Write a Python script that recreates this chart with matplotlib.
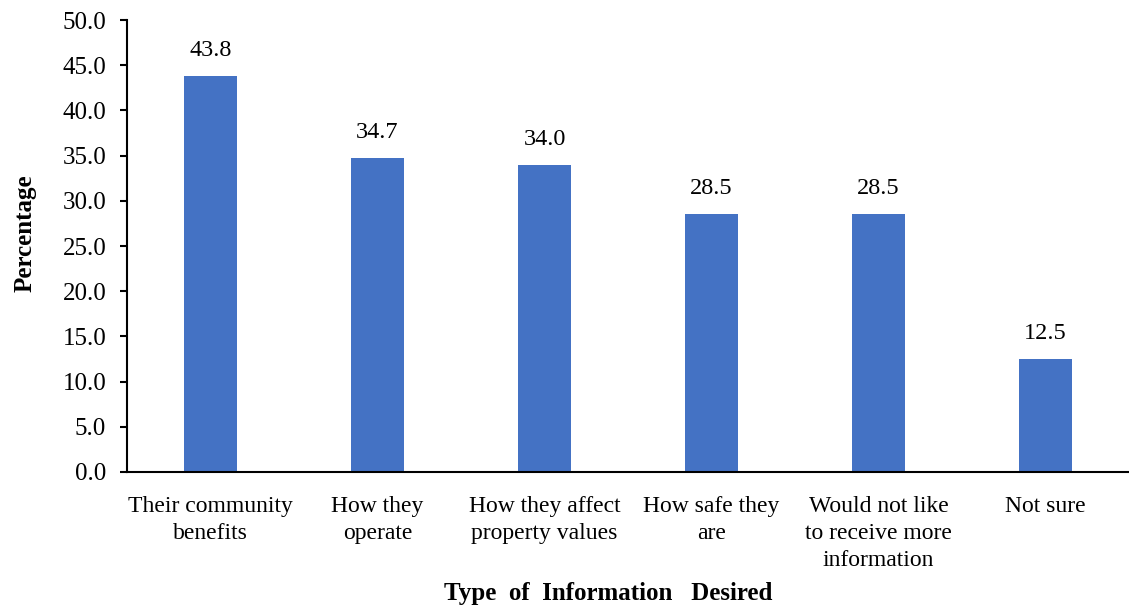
import matplotlib
matplotlib.use("Agg")
import matplotlib.pyplot as plt

categories = [
    "Their community\nbenefits",
    "How they\noperate",
    "How they affect\nproperty values",
    "How safe they\nare",
    "Would not like\nto receive more\ninformation",
    "Not sure",
]
percentages = [43.8, 34.7, 34.0, 28.5, 28.5, 12.5]
y_ticks = [0, 5, 10, 15, 20, 25, 30, 35, 40, 45, 50]

plt.rcParams["font.family"] = ["Liberation Serif", "DejaVu Serif"]

fig = plt.figure(figsize=(11.29, 6.09), dpi=100)
ax = fig.add_axes([0.1125, 0.225, 0.8875, 0.742])

x = list(range(len(categories)))
bars = ax.bar(x, percentages, width=0.32, color="#4472C4", zorder=2)

for xi, v in zip(x, percentages):
    ax.annotate(f"{v:.1f}", (xi, v), xytext=(0, 15), textcoords="offset pixels",
                ha="center", va="bottom", fontsize=17.5)

ax.set_xlim(-0.5, len(categories) - 0.5)
ax.set_ylim(0, 50)
ax.set_yticks(y_ticks)
ax.set_yticklabels([f"{t:.1f}" for t in y_ticks], fontsize=18)
ax.set_xticks(x)
ax.set_xticklabels(categories, fontsize=17, linespacing=1.38, va="top")
ax.tick_params(axis="x", length=0, pad=17)
ax.tick_params(axis="y", length=5, width=1.5, pad=10, direction="out")

for s in ("top", "right"):
    ax.spines[s].set_visible(False)
for s in ("left", "bottom"):
    ax.spines[s].set_linewidth(1.5)

fig.text(0.022, 0.617, "Percentage", rotation=90, ha="center", va="center",
         fontsize=18, fontweight="bold")
fig.text(0.539, 0.026, "Type  of  Information   Desired", ha="center", va="center",
         fontsize=18, fontweight="bold")

fig.savefig("out.png", dpi=100)
